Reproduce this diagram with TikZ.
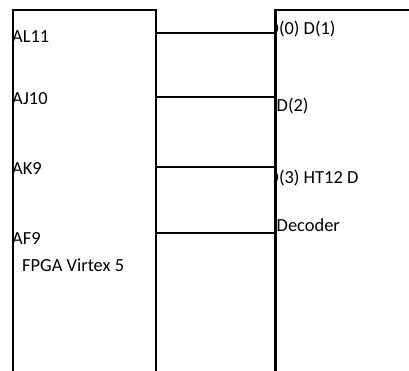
\documentclass[tikz,border=0pt]{standalone}
\usepackage{fontspec}
\setmainfont{Carlito}
\begin{document}
\begin{tikzpicture}[x=1bp,y=-1bp,
  blockbox/.style={draw=black,line width=2bp,fill=none},
  wire/.style={draw=black,line width=2bp},
  pinlabel/.style={anchor=base west,inner sep=0pt,font=\fontsize{18.5}{22}\selectfont,text=black}]
\useasboundingbox (0,0) rectangle (409,371);
\clip (0,0) rectangle (409,371);
% boxes (they run past the bottom and right edges of the picture)
\node[blockbox,anchor=north west,minimum width=143bp,minimum height=400bp,inner sep=0pt] (fpga) at (12,9) {};
\node[blockbox,anchor=north west,minimum width=160bp,minimum height=400bp,inner sep=0pt] (dec) at (275,9) {};
% pins
\coordinate (a1) at (fpga.east |- 0,33);
\coordinate (a2) at (fpga.east |- 0,97);
\coordinate (a3) at (fpga.east |- 0,167);
\coordinate (a4) at (fpga.east |- 0,233);
\coordinate (d1) at (dec.west |- 0,33);
\coordinate (d2) at (dec.west |- 0,97);
\coordinate (d3) at (dec.west |- 0,167);
\coordinate (d4) at (dec.west |- 0,233);
\draw[wire] (a1) -- (d1);
\draw[wire] (a2) -- (d2);
\draw[wire] (a3) -- (d3);
\draw[wire] (a4) -- (d4);
% FPGA labels
\node[pinlabel] (tAL) at (12,42.7) {AL11};
\node[pinlabel] (tAJ) at (12,104.5) {AJ10};
\node[pinlabel] (tAK) at (12,174) {AK9};
\node[pinlabel] (tAF) at (12,244) {AF9};
\node[pinlabel] (tFPGA) at (22,271) {FPGA Virtex 5};
% decoder labels (the first letter of some is hidden behind the box edge)
\begin{scope}
\clip (276,0) rectangle (409,371);
\node[pinlabel] (tD0) at (267.5,34) {D(0) D(1)};
\node[pinlabel] (tD3) at (267.5,183.3) {D(3) HT12 D};
\end{scope}
\node[pinlabel] (tD2) at (276.5,111) {D(2)};
\node[pinlabel] (tDec) at (276.5,231) {Decoder};
\draw[blockbox] (dec.north west) -- (dec.south west);
\end{tikzpicture}
\end{document}
